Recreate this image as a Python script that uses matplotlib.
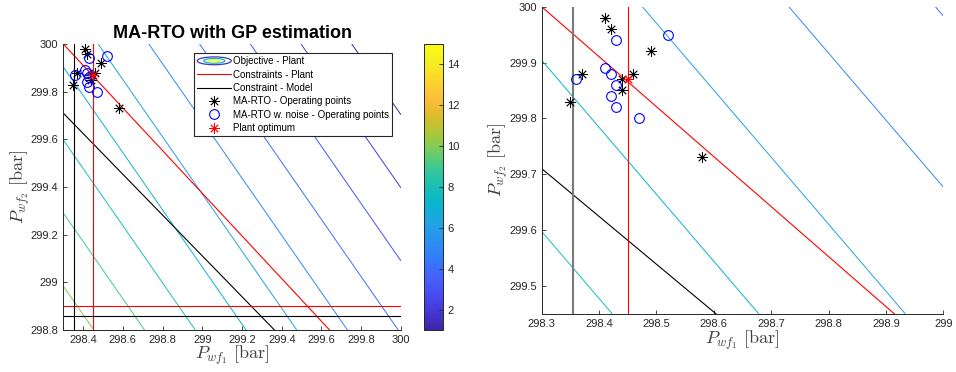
import numpy as np
import matplotlib
matplotlib.use("Agg")
import matplotlib.pyplot as plt
from matplotlib.colors import LinearSegmentedColormap, Normalize
from matplotlib.cm import ScalarMappable
from matplotlib.legend_handler import HandlerBase
from matplotlib.patches import Ellipse
from matplotlib.lines import Line2D

plt.rcParams["font.family"] = ["Liberation Sans", "DejaVu Sans"]
plt.rcParams["mathtext.fontset"] = "cm"

# MATLAB parula, every 4th entry of the 64-colour table
parula_rgb = [
    (0.2422, 0.1504, 0.6603), (0.2706, 0.2147, 0.8364), (0.2813, 0.3006, 0.9414),
    (0.2699, 0.3892, 0.9906), (0.1963, 0.4847, 0.9892), (0.1687, 0.5703, 0.9359),
    (0.1248, 0.6459, 0.8883), (0.0297, 0.7082, 0.8163), (0.0964, 0.7500, 0.7120),
    (0.2161, 0.7843, 0.5923), (0.4456, 0.8024, 0.3909), (0.6720, 0.7793, 0.2227),
    (0.8634, 0.7406, 0.1596), (0.9956, 0.7434, 0.2371), (0.9786, 0.8386, 0.1766),
    (0.9628, 0.9373, 0.1265), (0.9769, 0.9839, 0.0805),
]
parula = LinearSegmentedColormap.from_list("parula", parula_rgb)

# plant objective (linear over this window)
obj_levels = [1, 2, 3, 4, 5, 6, 7, 8, 9, 10]
obj_clim = (1, 15)
obj_ref_level = 7.0
obj_ref_pwf1 = 298.22      # Pwf1 where the level-7 contour meets Pwf2 = 300
obj_contour_slope = 1.2    # -dPwf2/dPwf1 along a contour
obj_level_step = 0.2554    # Pwf1 shift between neighbouring levels

# constraints: (Pwf1, Pwf2) point and slope of the diagonal, plus bounds
plant_diag = (298.3, 300.0, -0.895)
model_diag = (298.3, 299.71, -0.856)
plant_pwf1_bound = 298.45
plant_pwf2_bound = 298.9
model_pwf1_bound = 298.355
model_pwf2_bound = 298.86

# MA-RTO operating points
rto_pwf1 = [298.41, 298.42, 298.49, 298.37, 298.46, 298.44, 298.44, 298.35, 298.58]
rto_pwf2 = [299.98, 299.96, 299.92, 299.88, 299.88, 299.87, 299.85, 299.83, 299.73]

# MA-RTO with measurement noise
noisy_pwf1 = [298.52, 298.43, 298.41, 298.42, 298.36, 298.43, 298.42, 298.43, 298.47]
noisy_pwf2 = [299.95, 299.94, 299.89, 299.88, 299.87, 299.86, 299.84, 299.82, 299.80]

# plant optimum
opt_pwf1 = 298.45
opt_pwf2 = 299.87

left_xticks = [298.4, 298.6, 298.8, 299, 299.2, 299.4, 299.6, 299.8, 300]
left_yticks = [298.8, 299, 299.2, 299.4, 299.6, 299.8, 300]
right_xticks = [298.3, 298.4, 298.5, 298.6, 298.7, 298.8, 298.9, 299]
right_yticks = [299.5, 299.6, 299.7, 299.8, 299.9, 300]

axcol = "#262626"
labcol = "#404040"
star = (8, 2, 0)


def objective(p1, p2):
    u = p1 + (p2 - 300.0) / obj_contour_slope
    return obj_ref_level - (u - obj_ref_pwf1) / obj_level_step


def draw_panel(ax, xlim, ylim, xticks, yticks, vgray=False, xpad=1, ypad=2):
    g1 = np.linspace(xlim[0], xlim[1], 60)
    g2 = np.linspace(ylim[0], ylim[1], 60)
    P1, P2 = np.meshgrid(g1, g2)
    ax.contour(P1, P2, objective(P1, P2), levels=obj_levels, cmap=parula,
               vmin=obj_clim[0], vmax=obj_clim[1], linewidths=0.7)

    xs = np.array(xlim)
    for (x0, y0, s), c in [(plant_diag, "red"), (model_diag, "black")]:
        ax.plot(xs, y0 + s * (xs - x0), color=c, lw=0.8)
    ax.axvline(plant_pwf1_bound, color="red", lw=0.8)
    ax.axhline(plant_pwf2_bound, color="red", lw=0.8)
    ax.axhline(model_pwf2_bound, color="black", lw=0.8)
    if vgray:
        ax.axvline(model_pwf1_bound, color="#7a7a7a", lw=1.5)
    else:
        ax.axvline(model_pwf1_bound, color="black", lw=0.8)

    ax.plot(rto_pwf1, rto_pwf2, ls="none", marker=star, ms=7.5, mec="black",
            mew=0.6, color="black")
    ax.plot(noisy_pwf1, noisy_pwf2, ls="none", marker="o", ms=7, mfc="none",
            mec="blue", mew=0.8)
    ax.plot([opt_pwf1], [opt_pwf2], ls="none", marker=star, ms=7.5, mec="red",
            mew=0.6)

    ax.set_xlim(xlim)
    ax.set_ylim(ylim)
    ax.set_xticks(xticks)
    ax.set_yticks(yticks)
    ax.set_xticklabels(["%g" % t for t in xticks])
    ax.set_yticklabels(["%g" % t for t in yticks])
    ax.tick_params(direction="in", length=3, width=0.6, color=axcol,
                   labelcolor=axcol, labelsize=8)
    for side in ["top", "right"]:
        ax.spines[side].set_visible(False)
    for side in ["left", "bottom"]:
        ax.spines[side].set_color(axcol)
        ax.spines[side].set_linewidth(0.7)
    ax.set_xlabel(r"$P_{wf_1}\ \mathrm{[bar]}$", fontsize=13, color=labcol, labelpad=xpad)
    ax.set_ylabel(r"$P_{wf_2}\ \mathrm{[bar]}$", fontsize=13, color=labcol, labelpad=ypad)


class ObjectiveKey:
    pass


class HandlerObjective(HandlerBase):
    def create_artists(self, legend, orig_handle, xdescent, ydescent,
                       width, height, fontsize, trans):
        cx = width / 2 - xdescent
        cy = height / 2 - ydescent
        out = []
        for f, c in [(1.0, parula(0.05)), (0.62, parula(0.45)), (0.3, parula(0.95))]:
            out.append(Ellipse((cx, cy), width * f, height * 1.15 * f, fill=False,
                               edgecolor=c, lw=0.9, transform=trans))
        return out


fig = plt.figure(figsize=(9.56, 3.72), dpi=100)
ax1 = fig.add_axes([0.0662, 0.1129, 0.3532, 0.7688])
cax = fig.add_axes([0.4438, 0.1129, 0.0193, 0.7688])
ax2 = fig.add_axes([0.5666, 0.1565, 0.4201, 0.8255])

draw_panel(ax1, (298.3, 300.0), (298.8, 300.0), left_xticks, left_yticks,
           xpad=-1, ypad=-1)
draw_panel(ax2, (298.3, 299.0), (299.45, 300.0), right_xticks, right_yticks,
           vgray=True, xpad=0, ypad=-1)

ax1.set_title("MA-RTO with GP estimation", fontsize=13, fontweight="bold", pad=4)

handles = [
    ObjectiveKey(),
    Line2D([], [], color="red", lw=0.8),
    Line2D([], [], color="black", lw=0.8),
    Line2D([], [], ls="none", marker=star, ms=7.5, mec="black", mew=0.6),
    Line2D([], [], ls="none", marker="o", ms=7, mfc="none", mec="blue", mew=0.8),
    Line2D([], [], ls="none", marker=star, ms=7.5, mec="red", mew=0.6),
]
labels = ["Objective - Plant", "Constraints - Plant", "Constraint - Model",
          "MA-RTO - Operating points", "MA-RTO w. noise - Operating points",
          "Plant optimum"]
leg = ax1.legend(handles, labels, handler_map={ObjectiveKey: HandlerObjective()},
                 loc="upper right", bbox_to_anchor=(0.974, 0.9675), borderaxespad=0,
                 fontsize=7, handlelength=3.5, handletextpad=0.2, labelspacing=0.35,
                 borderpad=0.3, fancybox=False, framealpha=1)
leg.get_frame().set_edgecolor(axcol)
leg.get_frame().set_linewidth(0.8)

cb = fig.colorbar(ScalarMappable(norm=Normalize(*obj_clim), cmap=parula), cax=cax)
cb.set_ticks([2, 4, 6, 8, 10, 12, 14])
cb.ax.tick_params(direction="in", length=3, width=0.6, color=axcol,
                  labelcolor=axcol, labelsize=8)
cb.outline.set_edgecolor(axcol)
cb.outline.set_linewidth(0.7)

fig.savefig("out.png", dpi=100)
